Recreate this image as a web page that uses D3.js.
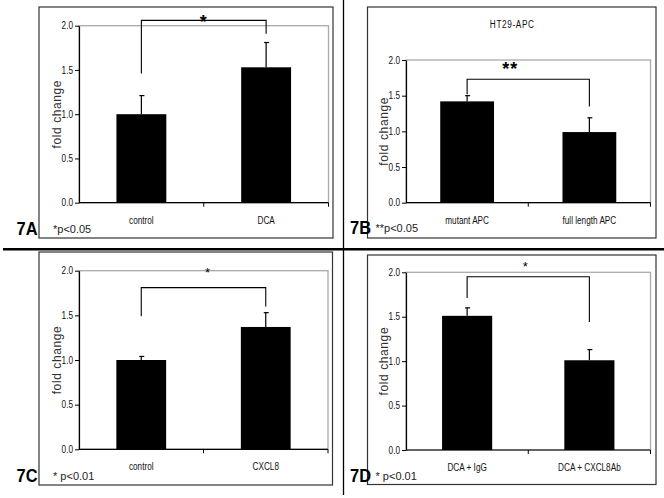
<!DOCTYPE html>
<html>
<head>
<meta charset="utf-8">
<script src="https://cdn.jsdelivr.net/npm/d3@7"></script>
<style>
body { margin: 0; background: #fff; }
svg { display: block; }
</style>
</head>
<body>
<script>
var width = 664;
var height = 498;

// data
var yTicks = [0, 0.5, 1.0, 1.5, 2.0];

var catsA = ["control", "DCA"];
var valsA = [1.0, 1.53];
var errA = [0.21, 0.28];
var bracketA = [1.46, 2.06, 1.91];   // left leg end, top, right leg end

var catsB = ["mutant APC", "full length APC"];
var valsB = [1.42, 0.99];
var errB = [0.08, 0.20];
var bracketB = [1.52, 1.73, 1.35];

var catsC = ["control", "CXCL8"];
var valsC = [1.0, 1.37];
var errC = [0.04, 0.16];
var bracketC = [1.49, 1.81, 1.60];

var catsD = ["DCA + IgG", "DCA + CXCL8Ab"];
var valsD = [1.51, 1.01];
var errD = [0.09, 0.12];
var bracketD = [1.71, 1.95, 1.44];

var panels = [
    { name: "7A", cats: catsA, vals: valsA, err: errA, bracket: bracketA, star: "*", starBold: true, starVal: 2.08, starDx: 0,
      note: "*p<0.05", title: null,
      box: [39, 7, 333, 238], plot: [79, 25.7, 328.5, 202.7], barFrac: 0.40, labelX: 16.5, labelY: 235 },
    { name: "7B", cats: catsB, vals: valsB, err: errB, bracket: bracketB, star: "**", starBold: true, starVal: 1.91, starDx: -18,
      note: "**p<0.05", title: "HT29-APC",
      box: [367.5, 7, 656, 238], plot: [406, 60, 650.5, 202.7], barFrac: 0.44, labelX: 350, labelY: 234 },
    { name: "7C", cats: catsC, vals: valsC, err: errC, bracket: bracketC, star: "*", starBold: false, starVal: 2.02, starDx: 4,
      note: "* p<0.01", title: null,
      box: [39, 252, 332.5, 485], plot: [79, 270.7, 328, 449.3], barFrac: 0.40, labelX: 16.5, labelY: 482 },
    { name: "7D", cats: catsD, vals: valsD, err: errD, bracket: bracketD, star: "*", starBold: false, starVal: 2.11, starDx: -3,
      note: "* p<0.01", title: null,
      box: [367.5, 255, 656, 484.5], plot: [406, 272.3, 650.5, 450], barFrac: 0.41, labelX: 350, labelY: 482 }
];

var svg = d3.select("body").append("svg")
    .attr("width", width)
    .attr("height", height)
    .style("font-family", "'Liberation Sans', Arial, sans-serif");

svg.append("rect").attr("width", width).attr("height", height).attr("fill", "#fff");

// separators between the four panels
svg.append("line")
    .attr("x1", 3).attr("x2", width).attr("y1", 249.3).attr("y2", 249.3)
    .attr("stroke", "#000").attr("stroke-width", 2.5);
svg.append("line")
    .attr("x1", 343.5).attr("x2", 343.5).attr("y1", 0).attr("y2", 495)
    .attr("stroke", "#000").attr("stroke-width", 1.3);

panels.forEach(function (p) {
    var g = svg.append("g");
    var L = p.plot[0], T = p.plot[1], R = p.plot[2], B = p.plot[3];

    // outer box
    g.append("rect")
        .attr("x", p.box[0]).attr("y", p.box[1])
        .attr("width", p.box[2] - p.box[0]).attr("height", p.box[3] - p.box[1])
        .attr("fill", "none").attr("stroke", "#333").attr("stroke-width", 1.2);

    var x = d3.scaleBand().domain(p.cats).range([L, R]);
    var y = d3.scaleLinear().domain([0, 2]).range([B, T]);

    // plot area border (grey)
    g.append("rect")
        .attr("x", L).attr("y", T).attr("width", R - L).attr("height", B - T)
        .attr("fill", "none").attr("stroke", "#aaa").attr("stroke-width", 1.3);

    // bars
    var bw = x.bandwidth() * p.barFrac;
    g.selectAll("rect.bar")
        .data(p.vals)
        .enter().append("rect")
        .attr("class", "bar")
        .attr("x", function (d, i) { return x(p.cats[i]) + x.bandwidth() / 2 - bw / 2; })
        .attr("y", function (d) { return y(d); })
        .attr("width", bw)
        .attr("height", function (d) { return y(0) - y(d); })
        .attr("fill", "#000");

    // error bars (upper only)
    p.vals.forEach(function (d, i) {
        var cx = x(p.cats[i]) + x.bandwidth() / 2;
        g.append("line")
            .attr("x1", cx).attr("x2", cx).attr("y1", y(d)).attr("y2", y(d + p.err[i]))
            .attr("stroke", "#000").attr("stroke-width", 1.2);
        g.append("line")
            .attr("x1", cx - 2).attr("x2", cx + 3).attr("y1", y(d + p.err[i])).attr("y2", y(d + p.err[i]))
            .attr("stroke", "#000").attr("stroke-width", 1.2);
    });

    // y axis
    var yAxis = d3.axisLeft(y)
        .tickValues(yTicks)
        .tickFormat(d3.format(".1f"))
        .tickSizeInner(4)
        .tickSizeOuter(0)
        .tickPadding(2);
    var ya = g.append("g")
        .attr("transform", "translate(" + L + ",0)")
        .call(yAxis);
    ya.select(".domain").attr("stroke", "#000").attr("stroke-width", 1.2);
    ya.selectAll(".tick line").attr("stroke", "#000");
    ya.selectAll(".tick text")
        .attr("class", "narrow")
        .attr("fill", "#111")
        .style("font-size", "10px")
        .style("font-family", "'Liberation Sans', Arial, sans-serif");

    // x axis line with ticks at category boundaries
    g.append("line")
        .attr("x1", L).attr("x2", R).attr("y1", B).attr("y2", B)
        .attr("stroke", "#000").attr("stroke-width", 1.2);
    p.cats.forEach(function (c, i) {
        var tx = x(c) + x.bandwidth();
        g.append("line")
            .attr("x1", tx).attr("x2", tx).attr("y1", B).attr("y2", B + 4)
            .attr("stroke", "#000");
    });
    g.selectAll("text.cat")
        .data(p.cats)
        .enter().append("text")
        .attr("class", "cat narrow")
        .attr("x", function (d) { return x(d) + x.bandwidth() / 2; })
        .attr("y", B + 21)
        .attr("text-anchor", "middle")
        .attr("fill", "#111")
        .style("font-size", "10px")
        .text(function (d) { return d; });

    // y axis title
    g.append("text")
        .attr("transform", "translate(" + (L - 18) + "," + ((T + B) / 2) + ") rotate(-90)")
        .attr("text-anchor", "middle")
        .attr("fill", "#333")
        .style("font-size", "12px")
        .style("letter-spacing", "0.6px")
        .text("fold change");

    // significance bracket
    var lx = x(p.cats[0]) + x.bandwidth() / 2;
    var rx = x(p.cats[1]) + x.bandwidth() / 2;
    g.append("path")
        .attr("d", "M" + lx + "," + y(p.bracket[0]) + "V" + y(p.bracket[1]) + "H" + rx + "V" + y(p.bracket[2]))
        .attr("fill", "none").attr("stroke", "#000").attr("stroke-width", 1.1);
    g.append("text")
        .attr("x", (L + R) / 2 + p.starDx)
        .attr("y", y(p.starVal) + (p.starBold ? 9 : 8))
        .attr("text-anchor", "middle")
        .attr("fill", "#000")
        .style("font-size", p.starBold ? "18px" : "13px")
        .style("font-weight", p.starBold ? "bold" : "normal")
        .style("letter-spacing", p.starBold ? "1px" : "0px")
        .text(p.star);

    if (p.title) {
        g.append("text")
            .attr("class", "narrow")
            .attr("x", (L + R) / 2 - 16)
            .attr("y", 28)
            .attr("text-anchor", "middle")
            .attr("fill", "#111")
            .style("font-size", "10px")
            .style("letter-spacing", "0.8px")
            .text(p.title);
    }

    // panel label and p value note
    g.append("text")
        .attr("x", p.labelX).attr("y", p.labelY)
        .attr("fill", "#000")
        .attr("textLength", 21)
        .attr("lengthAdjust", "spacingAndGlyphs")
        .style("font-size", "18px")
        .style("font-weight", "bold")
        .text(p.name);
    g.append("text")
        .attr("x", p.box[0] + (p.name === "7A" || p.name === "7C" ? 14 : 8))
        .attr("y", p.labelY - 2)
        .attr("fill", "#222")
        .style("font-size", "11px")
        .text(p.note);
});

// no Arial Narrow available: squeeze the narrow texts horizontally
svg.selectAll("text.narrow").each(function () {
    var len = this.getComputedTextLength();
    d3.select(this)
        .attr("textLength", len * 0.82)
        .attr("lengthAdjust", "spacingAndGlyphs");
});
</script>
</body>
</html>
